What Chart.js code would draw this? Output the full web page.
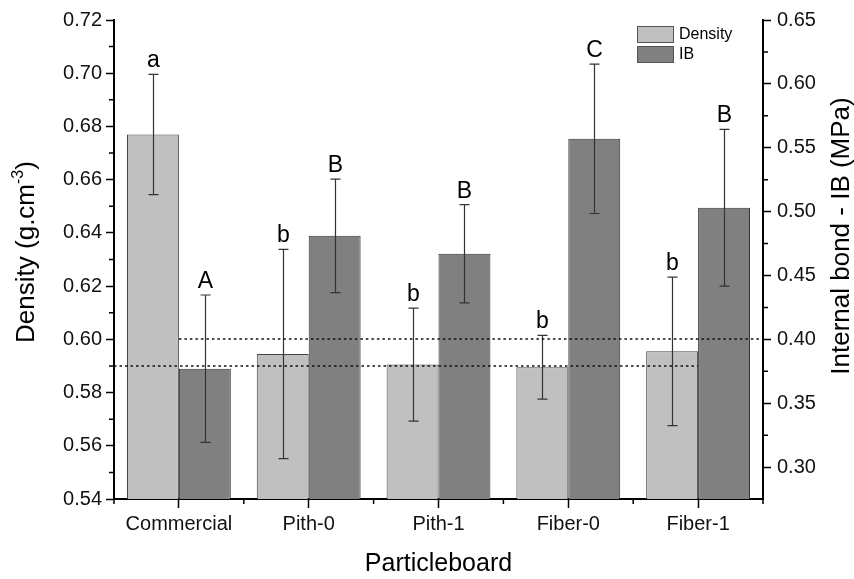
<!DOCTYPE html>
<html>
<head>
<meta charset="utf-8">
<script src="https://cdn.jsdelivr.net/npm/chart.js@4.4.1/dist/chart.umd.min.js"></script>
<style>
  html, body { margin: 0; padding: 0; background: #fff; }
  #wrap { width: 854px; height: 579px; }
</style>
</head>
<body>
<div id="wrap"><canvas id="chart"></canvas></div>
<script>
// Particleboard density and internal bond, mean ± SD with group letters
const boards = ['Commercial', 'Pith-0', 'Pith-1', 'Fiber-0', 'Fiber-1'];
const density = [0.677, 0.5945, 0.5905, 0.5895, 0.5955];
const densityErr = [0.0226, 0.0393, 0.0212, 0.0120, 0.0279];
const densityGroup = ['a', 'b', 'b', 'b', 'b'];
const ib = [0.377, 0.481, 0.467, 0.557, 0.503];
const ibErr = [0.0577, 0.0444, 0.0385, 0.0585, 0.0613];
const ibGroup = ['A', 'B', 'B', 'C', 'B'];
const densityTicks = [0.54, 0.56, 0.58, 0.60, 0.62, 0.64, 0.66, 0.68, 0.70, 0.72];
const ibTicks = [0.30, 0.35, 0.40, 0.45, 0.50, 0.55, 0.60, 0.65];
const densityLimit = 0.59;
const ibLimit = 0.40;

const FONT = "'Liberation Sans', Arial, sans-serif";
const INK = '#111';

// error bars and the letter above each one
const errorBars = {
    id: 'errorBars',
    afterDatasetsDraw(chart) {
        const ctx = chart.ctx;
        const sets = [
            { mean: density, err: densityErr, tag: densityGroup },
            { mean: ib, err: ibErr, tag: ibGroup },
        ];
        ctx.save();
        sets.forEach((s, di) => {
            const meta = chart.getDatasetMeta(di);
            const ys = chart.scales[meta.yAxisID];
            meta.data.forEach((bar, i) => {
                const x = Math.round(bar.x) + 0.5;
                const top = ys.getPixelForValue(s.mean[i] + s.err[i]);
                const bot = ys.getPixelForValue(s.mean[i] - s.err[i]);
                ctx.strokeStyle = '#333';
                ctx.lineWidth = 1.2;
                ctx.beginPath();
                ctx.moveTo(x, top); ctx.lineTo(x, bot);
                ctx.moveTo(x - 5, top); ctx.lineTo(x + 5, top);
                ctx.moveTo(x - 5, bot); ctx.lineTo(x + 5, bot);
                ctx.stroke();
                ctx.fillStyle = '#000';
                ctx.font = '23px ' + FONT;
                ctx.textAlign = 'center';
                ctx.textBaseline = 'alphabetic';
                ctx.fillText(s.tag[i], x, top - 7);
            });
        });
        ctx.restore();
    }
};

// reference lines: density 0.59 and IB 0.40
const limitLines = {
    id: 'limitLines',
    afterDatasetsDraw(chart) {
        const { ctx, scales: { x, y, y2 } } = chart;
        ctx.save();
        ctx.strokeStyle = '#111';
        ctx.lineWidth = 1.6;
        ctx.setLineDash([2.5, 3]);
        let py = Math.round(y.getPixelForValue(densityLimit));
        ctx.beginPath();
        ctx.moveTo(x.left, py); ctx.lineTo(x.getPixelForValue(4), py);
        ctx.stroke();
        py = Math.round(y2.getPixelForValue(ibLimit));
        ctx.beginPath();
        ctx.moveTo(x.getPixelForValue(0), py); ctx.lineTo(x.right, py);
        ctx.stroke();
        ctx.restore();
    }
};

// minor ticks, axis titles and legend box
const decor = {
    id: 'decor',
    afterDraw(chart) {
        const { ctx, chartArea: area, scales: { x, y, y2 } } = chart;
        ctx.save();
        ctx.strokeStyle = '#000';
        ctx.lineWidth = 1.5;
        ctx.beginPath();
        for (let i = 0; i < densityTicks.length - 1; i++) {
            const p = y.getPixelForValue((densityTicks[i] + densityTicks[i + 1]) / 2);
            ctx.moveTo(area.left - 5, p); ctx.lineTo(area.left, p);
        }
        for (let i = 0; i < ibTicks.length - 1; i++) {
            const p = y2.getPixelForValue((ibTicks[i] + ibTicks[i + 1]) / 2);
            ctx.moveTo(area.right, p); ctx.lineTo(area.right + 5, p);
        }
        for (let i = 0; i <= boards.length; i++) {
            const p = x.getPixelForValue(i - 0.5);
            ctx.moveTo(p, area.bottom); ctx.lineTo(p, area.bottom + 5);
        }
        ctx.stroke();

        // left title with superscript
        ctx.fillStyle = '#000';
        ctx.textBaseline = 'alphabetic';
        ctx.textAlign = 'left';
        const big = '26px ' + FONT, small = '16px ' + FONT;
        ctx.font = big;
        const w1 = ctx.measureText('Density (g.cm').width;
        const w3 = ctx.measureText(')').width;
        ctx.font = small;
        const w2 = ctx.measureText('-3').width;
        ctx.save();
        ctx.translate(34, 252);
        ctx.rotate(-Math.PI / 2);
        let sx = -(w1 + w2 + w3) / 2;
        ctx.font = big;
        ctx.fillText('Density (g.cm', sx, 0);
        ctx.font = small;
        ctx.fillText('-3', sx + w1, -11);
        ctx.font = big;
        ctx.fillText(')', sx + w1 + w2, 0);
        ctx.restore();

        // right title
        ctx.save();
        ctx.translate(849, 236);
        ctx.rotate(-Math.PI / 2);
        ctx.font = big;
        ctx.textAlign = 'center';
        ctx.fillText('Internal bond - IB (MPa)', 0, 0);
        ctx.restore();

        // legend
        const lx = area.right - 126, ly = area.top + 6;
        chart.data.datasets.forEach((ds, i) => {
            const top = ly + i * 20;
            ctx.fillStyle = ds.backgroundColor;
            ctx.fillRect(lx, top, 36, 16);
            ctx.strokeStyle = '#555';
            ctx.lineWidth = 1;
            ctx.strokeRect(lx + 0.5, top + 0.5, 36, 16);
            ctx.fillStyle = '#000';
            ctx.font = '16px ' + FONT;
            ctx.textBaseline = 'middle';
            ctx.textAlign = 'left';
            ctx.fillText(ds.label, lx + 42, top + 9);
        });
        ctx.restore();
    }
};

new Chart(document.getElementById('chart'), {
    type: 'bar',
    data: {
        labels: boards,
        datasets: [
            {
                label: 'Density',
                data: density,
                yAxisID: 'y',
                backgroundColor: '#c0c0c0',
                borderColor: '#444',
                borderWidth: 1,
                categoryPercentage: 0.8,
                barPercentage: 1.0,
            },
            {
                label: 'IB',
                data: ib,
                yAxisID: 'y2',
                backgroundColor: '#808080',
                borderColor: '#333',
                borderWidth: 1,
                categoryPercentage: 0.8,
                barPercentage: 1.0,
            }
        ]
    },
    options: {
        responsive: true,
        maintainAspectRatio: false,
        animation: false,
        layout: { padding: { top: 20, left: 0, right: 0, bottom: 0 } },
        plugins: { legend: { display: false }, tooltip: { enabled: false } },
        scales: {
            x: {
                offset: true,
                grid: { display: true, drawOnChartArea: false, offset: false, tickLength: 9, tickWidth: 1.5, tickColor: '#000' },
                border: { display: true, color: '#000', width: 2 },
                ticks: { color: INK, font: { family: FONT, size: 20 }, padding: 4, maxRotation: 0 },
                title: { display: true, text: 'Particleboard', color: '#000', font: { family: FONT, size: 25 }, padding: { top: 0, bottom: 0 } },
                afterFit(s) { s.height = 80; },
            },
            y: {
                position: 'left',
                min: 0.54,
                max: 0.72,
                afterBuildTicks(s) { s.ticks = densityTicks.map(v => ({ value: v })); },
                grid: { display: true, drawOnChartArea: false, tickLength: 8, tickWidth: 1.5, tickColor: '#000' },
                border: { display: true, color: '#000', width: 2 },
                ticks: { color: INK, font: { family: FONT, size: 20 }, padding: 4, callback: v => v.toFixed(2) },
                afterFit(s) { s.width = 114; },
            },
            y2: {
                position: 'right',
                min: 0.275,
                max: 0.65,
                afterBuildTicks(s) { s.ticks = ibTicks.map(v => ({ value: v })); },
                grid: { display: true, drawOnChartArea: false, tickLength: 8, tickWidth: 1.5, tickColor: '#000' },
                border: { display: true, color: '#000', width: 2 },
                ticks: { color: INK, font: { family: FONT, size: 20 }, padding: 6, callback: v => v.toFixed(2) },
                afterFit(s) { s.width = 91; },
            }
        }
    },
    plugins: [errorBars, limitLines, decor]
});
</script>
</body>
</html>
